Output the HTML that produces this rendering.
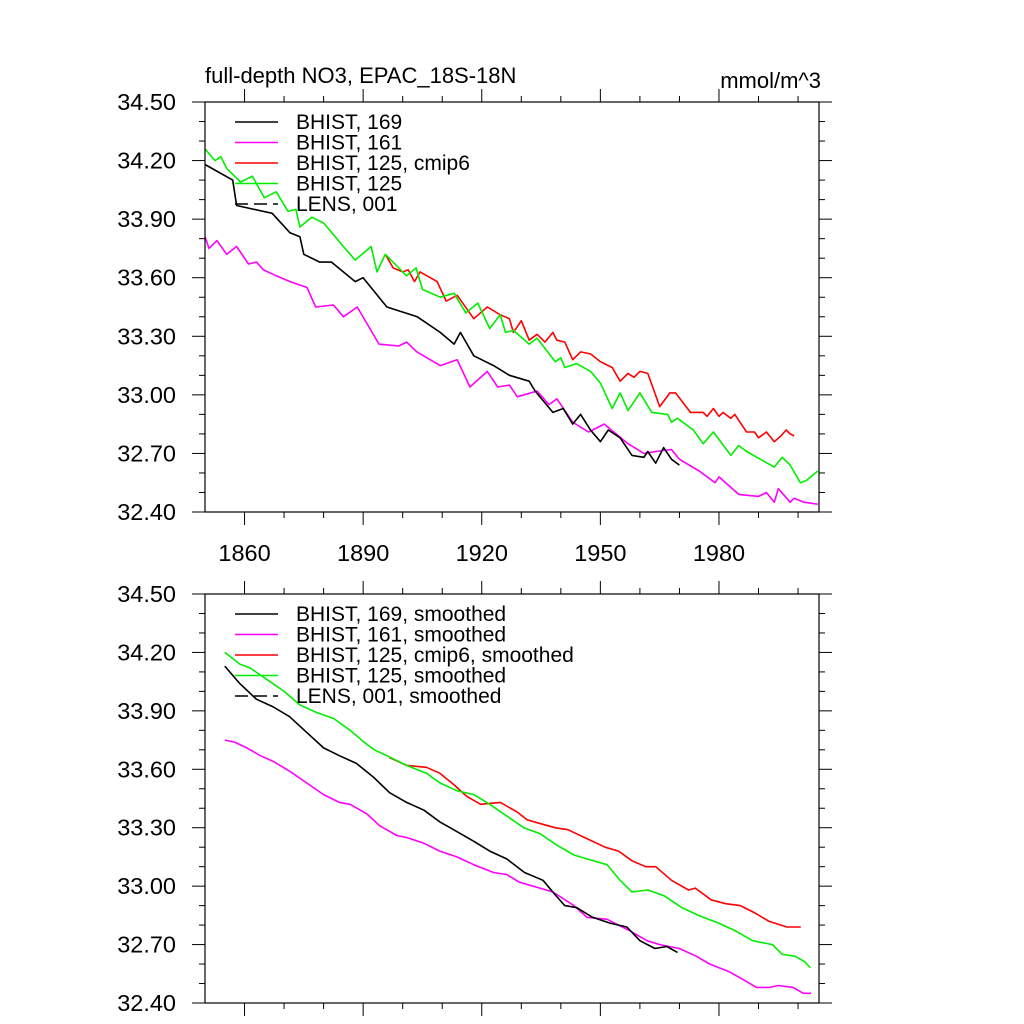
<!DOCTYPE html>
<html><head><meta charset="utf-8"><style>
html,body{margin:0;padding:0;background:#fff;}
svg{display:block;font-family:"Liberation Sans",Arial,sans-serif;}
</style></head><body>
<svg id="chart" width="1024" height="1024" viewBox="0 0 1024 1024" xmlns="http://www.w3.org/2000/svg"></svg>
<script>
// ---- data: top panel (raw) ----
const blkYears=[1850,1857,1858,1867,1871.5,1874,1875,1879,1882,1888,1890,1896,1903.7,1909.5,1913,1914.6,1918,1923,1927,1932,1933.5,1938,1940.6,1943,1945,1947.5,1950,1952,1955,1958,1961,1962,1964,1966,1968,1970];
const blkVals=[34.18,34.10,33.97,33.93,33.83,33.81,33.72,33.68,33.68,33.58,33.60,33.45,33.40,33.32,33.26,33.32,33.20,33.15,33.10,33.07,33.02,32.91,32.93,32.85,32.90,32.82,32.76,32.82,32.78,32.69,32.68,32.71,32.65,32.73,32.67,32.64];
const magYears=[1850,1851,1853,1855.5,1858,1861,1863,1864.8,1868,1871.5,1875.8,1878,1882.5,1885,1888.5,1894,1899,1901,1903.6,1909.5,1913.8,1917,1921.4,1924,1927,1929,1934,1937,1939,1943,1947,1951,1957,1961,1964,1968,1970,1975,1979,1980,1985,1990,1992,1994,1995,1998,1999,2001.5,2005];
const magVals=[33.81,33.75,33.79,33.72,33.76,33.67,33.68,33.64,33.61,33.58,33.55,33.45,33.46,33.40,33.45,33.26,33.25,33.27,33.22,33.15,33.18,33.04,33.12,33.04,33.05,32.99,33.02,32.95,32.98,32.86,32.81,32.85,32.75,32.70,32.71,32.72,32.67,32.61,32.55,32.58,32.49,32.48,32.50,32.45,32.52,32.45,32.47,32.45,32.44];
const grnYears=[1850,1852.5,1854,1855.5,1859,1862,1865,1868,1871,1873,1874,1877,1880,1885,1888,1892,1893.5,1895.6,1901,1903.4,1905,1909.5,1913,1916,1919,1922,1924.7,1926,1928,1932,1934,1938.6,1940,1941,1944,1947.5,1950,1953,1955,1957,1960,1963,1967,1968,1969.5,1973.5,1976,1978.6,1983,1985,1987,1990.5,1994,1996,1998,2000.6,2002,2005];
const grnVals=[34.26,34.20,34.22,34.16,34.09,34.12,34.01,34.04,33.94,33.95,33.86,33.91,33.88,33.76,33.69,33.76,33.63,33.72,33.61,33.65,33.54,33.50,33.52,33.42,33.47,33.34,33.41,33.32,33.33,33.26,33.29,33.17,33.19,33.14,33.16,33.12,33.06,32.93,33.01,32.92,33.01,32.91,32.90,32.86,32.88,32.82,32.75,32.81,32.69,32.74,32.71,32.67,32.63,32.68,32.64,32.55,32.56,32.61];
const redYears=[1895.6,1897.6,1900,1901.4,1903,1904.4,1908.7,1911,1913.8,1918,1921.4,1924.7,1927,1928,1930,1932,1934,1936,1938,1939,1941,1943,1945,1947.5,1950,1953,1955,1957,1958.5,1960,1962,1965,1967.6,1969,1972.8,1976,1977,1978.6,1980,1981,1983,1984,1987,1989,1990,1992,1994,1995.7,1997,1998,1999];
const redVals=[33.72,33.65,33.63,33.64,33.58,33.63,33.58,33.48,33.51,33.39,33.45,33.41,33.39,33.32,33.38,33.28,33.31,33.27,33.32,33.28,33.27,33.18,33.22,33.21,33.17,33.14,33.07,33.11,33.09,33.12,33.11,32.94,33.01,33.01,32.91,32.91,32.89,32.93,32.89,32.91,32.88,32.90,32.81,32.81,32.78,32.81,32.76,32.79,32.82,32.80,32.79];
// ---- data: bottom panel (smoothed) ----
const sBlkYears=[1855,1858.8,1863,1867.3,1871.4,1875.7,1880,1884,1888.3,1892.6,1896.7,1901,1905.4,1909.4,1912,1918,1922,1926.3,1930.8,1935.5,1938.8,1941,1944,1948,1952.4,1956.7,1960,1963.8,1966.8,1969.5];
const sBlkVals=[34.13,34.04,33.96,33.92,33.87,33.79,33.71,33.67,33.63,33.56,33.48,33.43,33.39,33.33,33.30,33.23,33.18,33.14,33.07,33.03,32.95,32.90,32.89,32.84,32.81,32.79,32.72,32.68,32.69,32.66];
const sMagYears=[1855,1857.4,1860.6,1864,1867.3,1871.4,1875.7,1880,1884,1886.7,1891,1894.2,1898.5,1901,1905.4,1909.4,1913.7,1918,1923,1926.3,1929.5,1934.7,1938,1943.3,1946.6,1951.7,1957.5,1961.8,1965,1970,1974.3,1977.6,1982.6,1987,1989.5,1992.8,1995,1998.8,2001.3,2003.3];
const sMagVals=[33.75,33.74,33.71,33.67,33.64,33.59,33.53,33.47,33.43,33.42,33.37,33.31,33.26,33.25,33.22,33.18,33.15,33.11,33.07,33.06,33.02,32.99,32.97,32.90,32.84,32.83,32.77,32.72,32.70,32.68,32.64,32.60,32.56,32.51,32.48,32.48,32.49,32.48,32.45,32.45];
const sGrnYears=[1855,1858.8,1861.4,1865,1870,1874,1878.4,1882.6,1886.7,1890.2,1892.8,1896,1901,1906,1909.4,1913.7,1918,1922,1926.3,1930.6,1934.7,1939,1943.3,1946.6,1951.7,1955,1958,1962,1966.2,1970.6,1974.8,1979.9,1984.2,1988.5,1993.5,1996,1999.3,2001.8,2003.1];
const sGrnVals=[34.20,34.14,34.12,34.07,34.00,33.93,33.89,33.86,33.80,33.74,33.70,33.67,33.62,33.58,33.53,33.49,33.47,33.42,33.36,33.30,33.27,33.21,33.16,33.14,33.11,33.03,32.97,32.98,32.95,32.89,32.85,32.81,32.77,32.72,32.70,32.65,32.64,32.61,32.58,32.57];
const sRedYears=[1896.7,1901,1906,1909.4,1913,1916.3,1919.7,1924.7,1929,1931.5,1935,1938.5,1941.8,1947,1951.2,1954.6,1958,1961.5,1964,1968,1972.3,1974,1978,1981.7,1985.4,1989.3,1992.6,1997.2,1998.4,2000.7];
const sRedVals=[33.66,33.62,33.61,33.58,33.52,33.46,33.42,33.43,33.38,33.34,33.32,33.30,33.29,33.24,33.20,33.18,33.13,33.10,33.10,33.03,32.98,32.99,32.93,32.91,32.90,32.86,32.82,32.79,32.79,32.79];
const yTicks=[34.50,34.20,33.90,33.60,33.30,33.00,32.70,32.40];
const xTickLabels=[1860,1890,1920,1950,1980];

const NS='http://www.w3.org/2000/svg';
const svg=document.getElementById('chart');
const X0=205,X1=819,YMIN=32.4,YMAX=34.5,XMIN=1850,XMAX=2005.3;
function xs(yr){return X0+(yr-XMIN)/(XMAX-XMIN)*(X1-X0);}
function mk(tag,attrs,parent){const e=document.createElementNS(NS,tag);for(const k in attrs)e.setAttribute(k,attrs[k]);(parent||svg).appendChild(e);return e;}

function panel(top,bottom,series,legendLabels,showX,name){
  const g=mk('g',{});
  
  
  const ys=v=>bottom-(v-YMIN)/(YMAX-YMIN)*(bottom-top);
  series.forEach(s=>{
    const pts=s.years.map((y,i)=>xs(y).toFixed(1)+','+ys(s.vals[i]).toFixed(1)).join(' ');
    const p=mk('polyline',{points:pts,fill:'none',stroke:s.color,'stroke-width':1.6,'stroke-linejoin':'round'},g);
    
    
  });
  const box=mk('rect',{x:X0,y:top,width:X1-X0,height:bottom-top,fill:'none',stroke:'#000','stroke-width':1.2},g);
  
  
  for(let k=0;k<=21;k++){
    const v=YMIN+k*0.1, y=ys(v), major=(k%3===0), L=major?13:6;
    mk('line',{x1:X0-L,x2:X0,y1:y,y2:y,stroke:'#000','stroke-width':1},g);
    mk('line',{x1:X1,x2:X1+L,y1:y,y2:y,stroke:'#000','stroke-width':1},g);
  }
  yTicks.forEach(v=>{
    const t=mk('text',{x:176,y:ys(v)+8,'text-anchor':'end','font-size':23.5},g);
    t.textContent=v.toFixed(2);
    
    
  });
  for(let yr=1860;yr<=2000;yr+=10){
    const x=xs(yr), major=((yr-1860)%30===0), L=major?13:6;
    mk('line',{x1:x,x2:x,y1:top-L,y2:top,stroke:'#000','stroke-width':1},g);
    mk('line',{x1:x,x2:x,y1:bottom,y2:bottom+L,stroke:'#000','stroke-width':1},g);
  }
  if(showX){
    xTickLabels.forEach(yr=>{
      const t=mk('text',{x:xs(yr),y:bottom+49,'text-anchor':'middle','font-size':23.5},g);
      t.textContent=yr;
      
      
    });
  }
  const colors=['#000','#ff00ff','#ff0000','#00ee00','#000'];
  legendLabels.forEach((lab,i)=>{
    const ly=top+20+i*20.5;
    const ln=mk('line',{x1:235,x2:278,y1:ly,y2:ly,stroke:colors[i],'stroke-width':1.6},g);
    if(i===4) ln.setAttribute('stroke-dasharray','13,6');
    
    
    const t=mk('text',{x:296,y:ly+7,'font-size':21},g);
    t.textContent=lab;
    
    
  });
}
panel(102,512,[
  {years:redYears,vals:redVals,color:'#ff0000',name:'bhist-125-cmip6-line'},
  {years:grnYears,vals:grnVals,color:'#00ee00',name:'bhist-125-line'},
  {years:magYears,vals:magVals,color:'#ff00ff',name:'bhist-161-line'},
  {years:blkYears,vals:blkVals,color:'#000000',name:'bhist-169-line'}
],['BHIST, 169','BHIST, 161','BHIST, 125, cmip6','BHIST, 125','LENS, 001'],true,'top-panel');
panel(594,1003,[
  {years:sRedYears,vals:sRedVals,color:'#ff0000',name:'bhist-125-cmip6-smoothed-line'},
  {years:sGrnYears,vals:sGrnVals,color:'#00ee00',name:'bhist-125-smoothed-line'},
  {years:sMagYears,vals:sMagVals,color:'#ff00ff',name:'bhist-161-smoothed-line'},
  {years:sBlkYears,vals:sBlkVals,color:'#000000',name:'bhist-169-smoothed-line'}
],['BHIST, 169, smoothed','BHIST, 161, smoothed','BHIST, 125, cmip6, smoothed','BHIST, 125, smoothed','LENS, 001, smoothed'],false,'bottom-panel');

const tt=mk('text',{x:205,y:83,'font-size':22});
tt.textContent='full-depth NO3, EPAC_18S-18N';


const ut=mk('text',{x:821,y:88,'font-size':22,'text-anchor':'end'});
ut.textContent='mmol/m^3';


</script>
</body></html>
